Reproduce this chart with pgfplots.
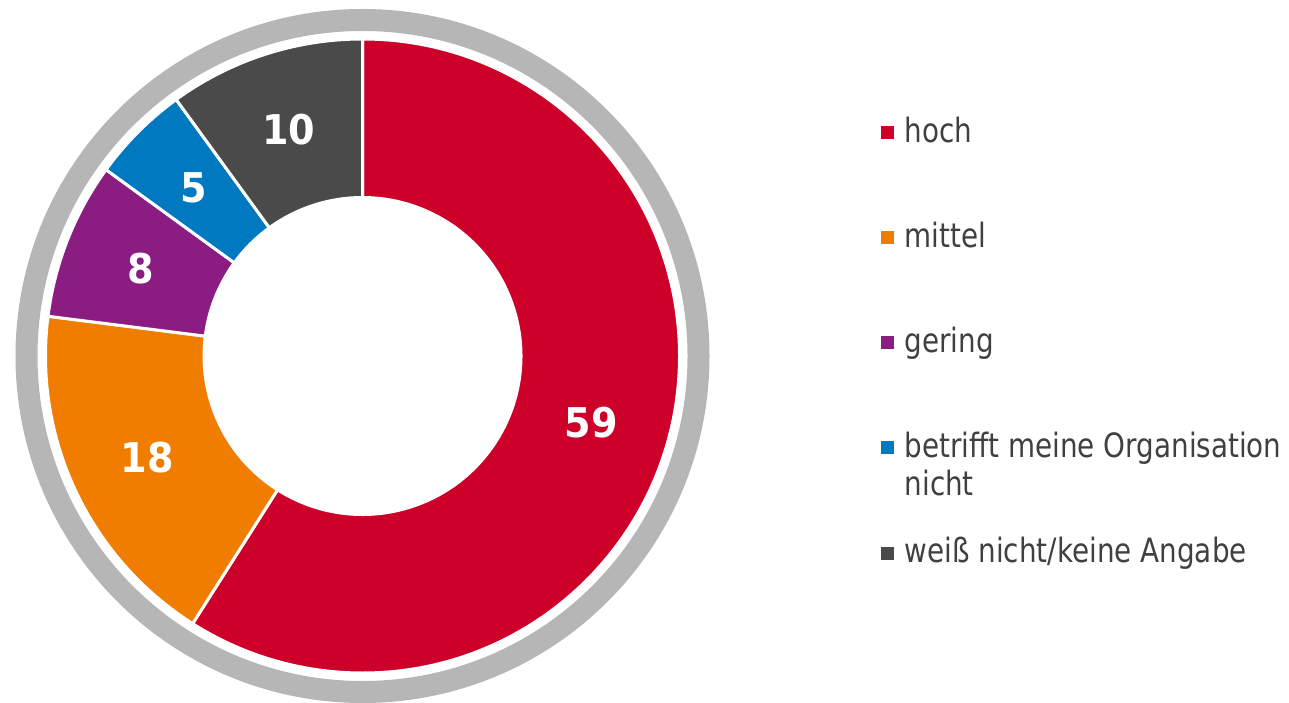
\documentclass[border=0pt]{standalone}
\usepackage{pgfplots}
\usepackage{pgfplotstable}
\pgfplotsset{compat=1.18}
\usepackage{fontspec}
\setmainfont{DejaVu Sans}
\newfontfamily\legfont[FakeStretch=0.83]{DejaVu Sans}
\newfontfamily\numfont[FakeStretch=0.93]{DejaVu Sans}
\definecolor{hochred}{RGB}{204,0,41}
\definecolor{mittelorange}{RGB}{240,125,0}
\definecolor{geringpurple}{RGB}{139,29,130}
\definecolor{betrifftblue}{RGB}{0,121,192}
\definecolor{weissgray}{RGB}{74,74,74}
\definecolor{ringgray}{RGB}{182,182,182}
\definecolor{textgray}{RGB}{64,64,64}

\pgfplotstableread{
key value
hoch 59
mittel 18
gering 8
betrifft 5
weiss 10
}\donutdata

\pgfplotstablegetelem{0}{value}\of\donutdata\edef\vA{\pgfplotsretval}
\pgfplotstablegetelem{1}{value}\of\donutdata\edef\vB{\pgfplotsretval}
\pgfplotstablegetelem{2}{value}\of\donutdata\edef\vC{\pgfplotsretval}
\pgfplotstablegetelem{3}{value}\of\donutdata\edef\vD{\pgfplotsretval}
\pgfplotstablegetelem{4}{value}\of\donutdata\edef\vE{\pgfplotsretval}
\pgfmathsetmacro\tot{\vA+\vB+\vC+\vD+\vE}
\pgfmathsetmacro\deg{360/\tot}
\pgfmathsetmacro\aA{90}
\pgfmathsetmacro\aB{\aA-\deg*\vA}
\pgfmathsetmacro\aC{\aB-\deg*\vB}
\pgfmathsetmacro\aD{\aC-\deg*\vC}
\pgfmathsetmacro\aE{\aD-\deg*\vD}
\pgfmathsetmacro\aF{\aE-\deg*\vE}
\pgfmathsetmacro\mA{(\aA+\aB)/2}
\pgfmathsetmacro\mB{(\aB+\aC)/2}
\pgfmathsetmacro\mC{(\aC+\aD)/2}
\pgfmathsetmacro\mD{(\aD+\aE)/2}
\pgfmathsetmacro\mE{(\aE+\aF)/2}

% centre (px, y up), radii in px; 1 px = 0.5 pt
\def\cx{362.5}
\def\cy{346}
\newcommand\slice[3]{%
  \fill[#1, draw=white, line width=1.5pt]
    (axis cs:{\cx+317*cos(#2)},{\cy+317*sin(#2)})
    arc[start angle=#2, end angle=#3, radius=158.5pt]
    -- (axis cs:{\cx+158.5*cos(#3)},{\cy+158.5*sin(#3)})
    arc[start angle=#3, end angle=#2, radius=79.25pt] -- cycle;}
\newcommand\slicelabel[2]{%
  \node[text=white, font=\numfont\bfseries\fontsize{20.5}{24}\selectfont]
    at (axis cs:{\cx+238*cos(#1)},{\cy+238*sin(#1)}) {#2};}

\begin{document}
\begin{tikzpicture}
\begin{axis}[
  x=0.5pt, y=0.5pt,
  xmin=0, xmax=1289, ymin=0, ymax=702,
  hide axis, clip=false,
  legend image code/.code={\fill[#1, draw=none] (0pt,14pt) rectangle (6.5pt,20.5pt);
    \pgfresetboundingbox
    \pgfpathrectangle{\pgfpoint{0pt}{2.5pt}}{\pgfpoint{12pt}{6.5pt}}%
    \pgfusepath{use as bounding box}},
  legend cell align=left,
  legend style={draw=none, fill=none, at={(axis cs:880.7,588)}, anchor=north west,
    inner sep=0pt, outer sep=0pt, row sep=0pt, column sep=0pt,
    nodes={inner sep=0pt, outer sep=0pt, text height=14pt, text depth=38.62pt,
      text=textgray, font=\legfont\fontsize{16.75}{19}\selectfont}},
]
\draw[ringgray, line width=11pt] (axis cs:\cx,\cy) circle[radius=168pt];
\slice{hochred}{\aA}{\aB}
\slice{mittelorange}{\aB}{\aC}
\slice{geringpurple}{\aC}{\aD}
\slice{betrifftblue}{\aD}{\aE}
\slice{weissgray}{\aE}{\aF}
\slicelabel{\mA}{\vA}
\slicelabel{\mB}{\vB}
\slicelabel{\mC}{\vC}
\slicelabel{\mD}{\vD}
\slicelabel{\mE}{\vE}
\addlegendimage{hochred}
\addlegendentry{hoch}
\addlegendimage{mittelorange}
\addlegendentry{mittel}
\addlegendimage{geringpurple}
\addlegendentry{gering}
\addlegendimage{betrifftblue}
\addlegendentry{\vtop{\hbox{betrifft meine Organisation}\hbox{nicht}}}
\addlegendimage{weissgray}
\addlegendentry{weiß nicht/keine Angabe}
\end{axis}
\pgfresetboundingbox
\path (current axis.south west) rectangle (current axis.north east);
\end{tikzpicture}
\end{document}
